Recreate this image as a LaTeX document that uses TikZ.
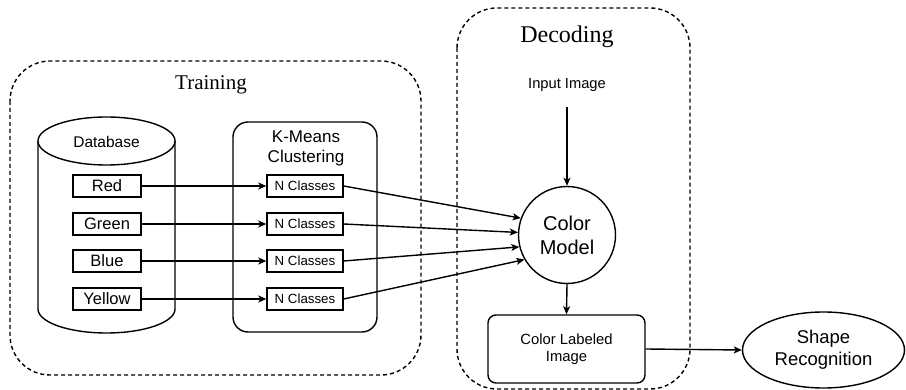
\documentclass[tikz,border=0pt]{standalone}
\usepackage{fontspec}
\setmainfont{Liberation Serif}
\setsansfont{Liberation Sans}
\usetikzlibrary{arrows.meta,shapes.geometric}
\tikzset{
  ln/.style={line width=1.4pt},
  grp/.style={line width=1.4pt, dash pattern=on 4pt off 3pt, rounded corners=40pt},
  colbox/.style={draw, ln, minimum width=68pt, minimum height=22pt, inner sep=0pt, font=\sffamily\fontsize{16.5}{18}\selectfont},
  ncbox/.style={draw, ln, minimum width=76pt, minimum height=22pt, inner sep=0pt, font=\sffamily\fontsize{13.3}{15}\selectfont},
  arr/.style={ln, -{Stealth[length=8pt,width=7pt,inset=2pt]}},
}
\begin{document}
\begin{tikzpicture}[x=1pt,y=-1pt]
\useasboundingbox (0,0) rectangle (906,390);
% group boxes
\draw[grp] (10,61) rectangle (421,375);
\draw[grp] (457,8) rectangle (690,389);
\node[font=\fontsize{21}{24}\selectfont] (ttl) at (211,85) {Training};
\node[font=\fontsize{24}{27}\selectfont] (dtl) at (567,37) {Decoding};
% database cylinder
\draw[ln] (106.5,141) ellipse[x radius=68.5, y radius=24];
\draw[ln] (38,141) -- (38,309) arc[start angle=180, end angle=0, x radius=68.5, y radius=24] -- (175,141);
\node[font=\sffamily\fontsize{15.5}{18}\selectfont] (db) at (106.5,142) {Database};
\node[colbox] (red) at (107,186) {Red};
\node[colbox] (green) at (107,224) {Green};
\node[colbox] (blue) at (107,261) {Blue};
\node[colbox] (yellow) at (107,299) {Yellow};
% k-means box
\node[draw, ln, rounded corners=15pt, minimum width=144pt, minimum height=210pt] (km) at (305,227) {};
\node[font=\sffamily\fontsize{17}{20}\selectfont, align=center] (kmt) at (306,148) {K-Means\\Clustering};
\node[ncbox] (n1) at (305,186) {N Classes};
\node[ncbox] (n2) at (305,224) {N Classes};
\node[ncbox] (n3) at (305,261) {N Classes};
\node[ncbox] (n4) at (305,299) {N Classes};
% decoding
\node[font=\sffamily\fontsize{14.7}{17}\selectfont] (inp) at (567,85) {Input Image};
\coordinate (inpb) at (567,107);
\node[draw, ln, circle, minimum size=97pt, inner sep=0pt, align=center, font=\sffamily\fontsize{20}{24}\selectfont] (cm) at (567,235) {Color\\Model};
\node[draw, ln, rounded corners=8pt, minimum width=157pt, minimum height=68pt, align=center, font=\sffamily\fontsize{14.8}{17.5}\selectfont] (cli) at (566.5,349) {Color Labeled\\Image};
\node[draw, ln, ellipse, minimum width=162pt, minimum height=76pt, inner sep=0pt, align=center, font=\sffamily\fontsize{18.5}{22}\selectfont] (sr) at (823.5,350) {Shape\\Recognition};
% connectors
\draw[arr] (red) -- (n1);
\draw[arr] (green) -- (n2);
\draw[arr] (blue) -- (n3);
\draw[arr] (yellow) -- (n4);
\draw[arr] (n1.east) -- (cm.160);
\draw[arr] (n2.east) -- (cm.177);
\draw[arr] (n3.east) -- (cm.194);
\draw[arr] (n4.east) -- (cm.210);
\draw[arr] (inpb) -- (cm.north);
\draw[arr] (cm.south) -- (cli.north);
\draw[arr] (cli.east) -- (sr.west);
\end{tikzpicture}
\end{document}
